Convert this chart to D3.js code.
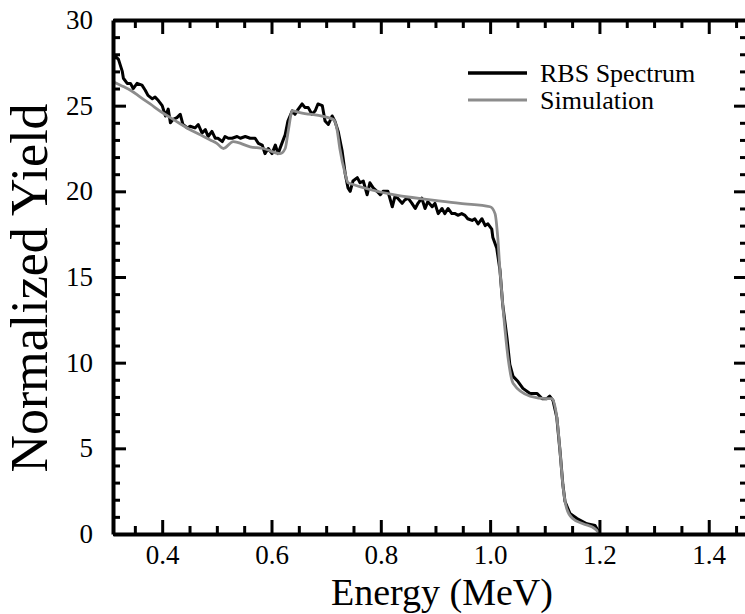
<!DOCTYPE html>
<html>
<head>
<meta charset="utf-8">
<script src="https://cdn.jsdelivr.net/npm/d3@7"></script>
<style>
  body { margin: 0; background: #fff; }
</style>
</head>
<body>
<script>
// measured RBS spectrum (energy in MeV, normalized yield)
const rbsEnergy = [0.310, 0.314, 0.320, 0.327, 0.329, 0.336, 0.342, 0.347, 0.354, 0.363, 0.369, 0.374, 0.382, 0.387, 0.393,
  0.400, 0.406, 0.411, 0.415, 0.420, 0.427, 0.433, 0.438, 0.446, 0.451, 0.460, 0.466, 0.473, 0.479, 0.484, 0.491, 0.497,
  0.502, 0.510, 0.515, 0.521, 0.528, 0.537, 0.543, 0.552, 0.561, 0.570, 0.576, 0.583, 0.588, 0.594, 0.601, 0.607, 0.612,
  0.619, 0.625, 0.630, 0.638, 0.643, 0.649, 0.656, 0.661, 0.667, 0.674, 0.680, 0.685, 0.693, 0.698, 0.704, 0.711, 0.716,
  0.722, 0.729, 0.735, 0.740, 0.744, 0.749, 0.757, 0.762, 0.768, 0.775, 0.780, 0.786, 0.793, 0.799, 0.804, 0.813, 0.821,
  0.826, 0.831, 0.839, 0.844, 0.850, 0.857, 0.863, 0.868, 0.875, 0.881, 0.886, 0.894, 0.899, 0.905, 0.912, 0.917, 0.923,
  0.930, 0.936, 0.941, 0.948, 0.954, 0.959, 0.967, 0.972, 0.978, 0.985, 0.991, 0.996, 1.003, 1.005, 1.012, 1.018, 1.023,
  1.031, 1.036, 1.042, 1.051, 1.060, 1.073, 1.086, 1.095, 1.104, 1.109, 1.115, 1.122, 1.128, 1.133, 1.137, 1.146, 1.159,
  1.177, 1.192, 1.201];
const rbsYield = [27.6, 27.9, 27.7, 27.0, 26.6, 26.3, 26.3, 26.0, 26.3, 26.2, 25.9, 25.6, 25.4, 25.5, 25.3,
  25.0, 24.4, 24.8, 24.0, 24.2, 24.3, 24.5, 23.9, 23.7, 23.8, 23.7, 23.9, 23.4, 23.6, 23.2, 23.5, 23.1,
  23.1, 22.9, 23.2, 23.1, 23.1, 23.2, 23.1, 23.2, 23.1, 23.1, 22.8, 22.7, 22.2, 22.5, 22.2, 22.7, 22.2,
  22.8, 23.3, 24.1, 24.7, 24.5, 24.8, 25.1, 24.9, 24.9, 24.5, 24.7, 25.1, 25.0, 24.1, 23.9, 24.4, 24.1,
  23.5, 22.4, 21.0, 20.2, 20.0, 20.6, 20.8, 20.5, 20.6, 19.8, 20.5, 20.2, 20.0, 19.8, 20.0, 20.0, 19.1,
  19.7, 19.6, 19.3, 19.5, 19.6, 19.3, 19.0, 19.3, 19.6, 19.0, 19.4, 19.1, 19.3, 18.7, 19.0, 18.7, 19.0,
  18.7, 18.7, 18.6, 18.7, 18.6, 18.4, 18.3, 18.4, 18.1, 18.4, 18.0, 18.1, 17.8, 17.3, 16.7, 15.4, 13.4,
  11.4, 9.9, 9.2, 8.9, 8.5, 8.2, 8.2, 7.9, 7.9, 8.05, 7.8, 6.8, 4.8, 2.9, 1.9, 1.2, 0.9,
  0.6, 0.5, 0.0];

// simulated spectrum
const simEnergy = [0.310, 0.330, 0.342, 0.360, 0.378, 0.400, 0.415, 0.430, 0.451, 0.470, 0.488, 0.500, 0.512, 0.530,
  0.561, 0.585, 0.616, 0.625, 0.631, 0.638, 0.652, 0.713, 0.720, 0.725, 0.735, 0.740, 0.945, 1.000, 1.009, 1.014,
  1.018, 1.023, 1.027, 1.034, 1.042, 1.073, 1.104, 1.113, 1.122, 1.128, 1.133, 1.140, 1.151, 1.170, 1.192, 1.201];
const simYield = [26.4, 26.1, 25.9, 25.5, 25.1, 24.6, 24.3, 24.0, 23.6, 23.3, 23.0, 22.8, 22.5, 22.9,
  22.6, 22.5, 22.2, 22.5, 23.6, 24.7, 24.6, 24.2, 23.6, 22.5, 21.0, 20.5, 19.3, 19.1, 18.7, 17.3,
  15.4, 13.4, 12.0, 10.0, 8.8, 8.05, 7.9, 7.9, 6.8, 4.8, 2.9, 1.5, 0.9, 0.6, 0.3, 0.0];

const seriesNames = ["RBS Spectrum", "Simulation"];
const xTicks = [0.4, 0.6, 0.8, 1.0, 1.2, 1.4];
const yTicks = [0, 5, 10, 15, 20, 25, 30];

const serif = '"Liberation Serif", "Times New Roman", serif';
const W = 745, H = 614;
const svg = d3.select("body").append("svg").attr("width", W).attr("height", H);

const x = d3.scaleLinear().domain([0.31, 1.47]).range([113, 747]);
const y = d3.scaleLinear().domain([0, 30]).range([534, 20]);

const xMinor = d3.range(0.35, 1.46, 0.05).filter(v => !xTicks.some(t => Math.abs(t - v) < 1e-6));
const yMinor = d3.range(1, 30, 1).filter(v => v % 5 !== 0);

svg.append("clipPath").attr("id", "plot")
  .append("rect").attr("x", 113).attr("y", 20).attr("width", 634).attr("height", 514);

// curves
const line = d3.line().x(d => x(d[0])).y(d => y(d[1]));
const plot = svg.append("g").attr("clip-path", "url(#plot)");
plot.append("path")
  .datum(d3.zip(rbsEnergy, rbsYield))
  .attr("d", line)
  .attr("fill", "none").attr("stroke", "#000").attr("stroke-width", 3)
  .attr("stroke-linejoin", "round");
plot.append("path")
  .datum(d3.zip(simEnergy, simYield))
  .attr("d", line.curve(d3.curveMonotoneX))
  .attr("fill", "none").attr("stroke", "#8c8c8c").attr("stroke-width", 2.8)
  .attr("stroke-linejoin", "round");

// axes, ticks pointing inward
function styleAxis(g) {
  g.attr("font-family", serif);
  g.select(".domain").attr("stroke-width", 4);
  g.selectAll(".tick line").attr("stroke-width", 3);
  g.selectAll(".tick text").attr("font-family", serif).attr("font-size", 27);
}

svg.append("g").attr("transform", "translate(0,534)")
  .call(d3.axisBottom(x).tickValues(xTicks).tickFormat(d3.format(".1f")).tickSize(-14).tickSizeOuter(0).tickPadding(11))
  .call(styleAxis);
svg.append("g").attr("transform", "translate(0,534)")
  .call(d3.axisBottom(x).tickValues(xMinor).tickFormat("").tickSize(-8).tickSizeOuter(0))
  .call(g => g.select(".domain").remove()).call(styleAxis);

svg.append("g").attr("transform", "translate(0,20)")
  .call(d3.axisTop(x).tickValues(xTicks).tickFormat("").tickSize(-14).tickSizeOuter(0))
  .call(styleAxis);
svg.append("g").attr("transform", "translate(0,20)")
  .call(d3.axisTop(x).tickValues(xMinor).tickFormat("").tickSize(-8).tickSizeOuter(0))
  .call(g => g.select(".domain").remove()).call(styleAxis);

svg.append("g").attr("transform", "translate(113,0)")
  .call(d3.axisLeft(y).tickValues(yTicks).tickSize(-13).tickSizeOuter(0).tickPadding(20))
  .call(styleAxis);
svg.append("g").attr("transform", "translate(113,0)")
  .call(d3.axisLeft(y).tickValues(yMinor).tickFormat("").tickSize(-7).tickSizeOuter(0))
  .call(g => g.select(".domain").remove()).call(styleAxis);

svg.append("g").attr("transform", "translate(747,0)")
  .call(d3.axisRight(y).tickValues(yTicks).tickFormat("").tickSize(-13).tickSizeOuter(0))
  .call(styleAxis);
svg.append("g").attr("transform", "translate(747,0)")
  .call(d3.axisRight(y).tickValues(yMinor).tickFormat("").tickSize(-7).tickSizeOuter(0))
  .call(g => g.select(".domain").remove()).call(styleAxis);

// axis titles
svg.append("text").attr("x", 442).attr("y", 605).attr("text-anchor", "middle")
  .attr("font-family", serif).attr("font-size", 38).text("Energy (MeV)");
svg.append("text").attr("transform", "translate(47,288) rotate(-90)").attr("text-anchor", "middle")
  .attr("font-family", serif).attr("font-size", 52).text("Normalized Yield");

// legend
const legend = svg.append("g");
seriesNames.forEach((name, i) => {
  const ly = 73 + i * 27;
  legend.append("line").attr("x1", 468).attr("x2", 527).attr("y1", ly).attr("y2", ly)
    .attr("stroke", i === 0 ? "#000" : "#8c8c8c").attr("stroke-width", i === 0 ? 3.5 : 3);
  legend.append("text").attr("x", 540).attr("y", ly).attr("dy", "0.35em")
    .attr("font-family", serif).attr("font-size", 26).text(name);
});
</script>
</body>
</html>
